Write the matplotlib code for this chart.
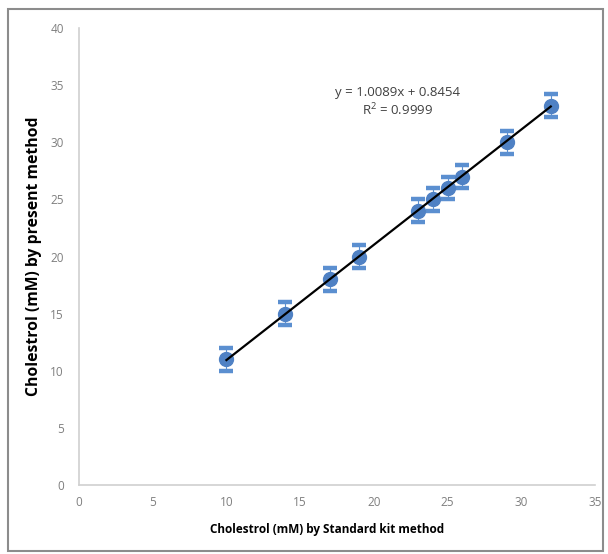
import matplotlib
matplotlib.use("Agg")
import matplotlib.pyplot as plt
import numpy as np
from matplotlib.patches import Rectangle

x_std = [10, 14, 17, 19, 23, 24, 25, 26, 29, 32]
y_present = [11, 15, 18, 20, 24, 25, 26, 27, 30, 33.2]
y_err = [1.0, 1.0, 1.0, 1.0, 1.0, 1.0, 1.0, 1.0, 1.0, 1.0]
slope, intercept = 1.0089, 0.8454
eq_text = "y = 1.0089x + 0.8454"
r2_text = "R$^2$ = 0.9999"
x_ticks = [0, 5, 10, 15, 20, 25, 30, 35]
y_ticks = [0, 5, 10, 15, 20, 25, 30, 35, 40]

plt.rcParams['font.family'] = ['Open Sans', 'DejaVu Sans']
plt.rcParams['mathtext.fontset'] = 'custom'
plt.rcParams['mathtext.rm'] = 'Open Sans'

W, H = 608, 554
fig = plt.figure(figsize=(W/100, H/100), dpi=100)
ax = fig.add_axes([79/W, 1-485/H, (595-79)/W, (485-28)/H])

blue = '#4f81c4'
ax.errorbar(x_std, y_present, yerr=y_err, fmt='o', color=blue, ms=10,
            ecolor='#5b8fd0', elinewidth=0.8, capsize=4.8, capthick=3.2, zorder=3)
xs = np.array([min(x_std), max(x_std)])
ax.plot(xs, slope*xs + intercept, color='black', lw=1.6, zorder=4)

ax.set_xlim(0, 35)
ax.set_ylim(0, 40)
ax.set_xticks(x_ticks)
ax.set_yticks(y_ticks)
for s in ['top', 'right']:
    ax.spines[s].set_visible(False)
for s in ['left', 'bottom']:
    ax.spines[s].set_color('#d0d0d0')
    ax.spines[s].set_linewidth(1.2)
ax.tick_params(length=0, labelsize=8.5, labelcolor='#7f7f7f', pad=8)
ax.tick_params(axis='y', pad=11)

ax.set_xlabel("Cholestrol (mM) by Standard kit method", fontsize=8.5, fontweight='bold')
ax.xaxis.set_label_coords(0.48, -0.083)
ax.set_ylabel("Cholestrol (mM) by present method", fontsize=11.3, fontweight='bold', labelpad=6)

ax.text(21.6, 33.5, eq_text + "\n" + r2_text, fontsize=9.5, color='#404040',
        ha='center', va='center', linespacing=1.25)

fig.patches.append(Rectangle((8/W, 1-551/H), (603-8)/W, (551-9)/H, transform=fig.transFigure,
                             fill=False, edgecolor='#8c8c8c', lw=1.5))

fig.savefig("out.png", dpi=100)
